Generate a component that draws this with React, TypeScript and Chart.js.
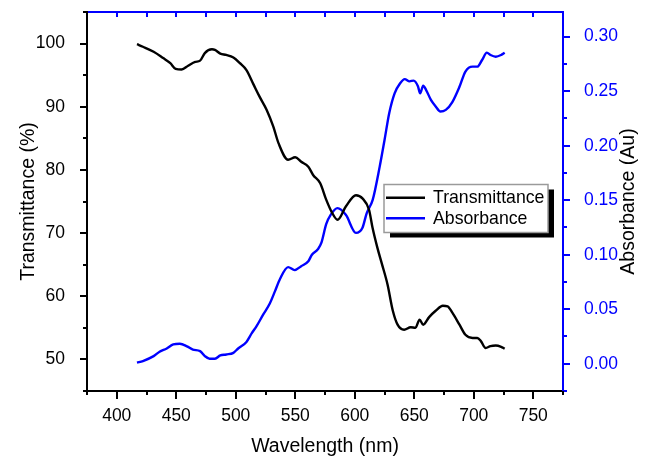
import React, { useEffect, useRef } from 'react';
import { Chart, registerables } from 'chart.js';

Chart.register(...registerables);

// ---- Data ----
const wavelengthT = [
  417, 422, 431, 439, 445, 449.5, 454.5, 460, 466, 470, 474, 480, 482.5, 487, 492, 498,
  503.5, 509, 515, 520, 526, 531.5, 536, 544, 550, 555, 561, 565, 571, 576, 581, 585.5,
  592.5, 601, 606.5, 612, 615, 619, 623, 627.5, 632, 636, 641.5, 647, 651, 654.5, 657.5,
  662.5, 668, 674, 678, 682, 688, 693, 699, 703, 706, 710, 714, 718.5, 723, 726,
];
const transmittance = [
  99.9, 99.5, 98.7, 97.7, 96.9, 96.0, 95.9, 96.5, 97.1, 97.3, 98.5, 99.1, 99.0, 98.4, 98.2, 97.8,
  96.9, 95.8, 93.5, 91.6, 89.5, 86.9, 84.2, 81.6, 82.0, 81.3, 80.5, 79.2, 77.9, 75.3, 73.2, 72.1,
  74.2, 76.0, 75.5, 73.7, 70.8, 67.7, 65.0, 61.9, 57.7, 55.5, 54.7, 55.1, 55.0, 56.3, 55.5,
  56.7, 57.7, 58.5, 58.4, 57.4, 55.5, 53.9, 53.4, 53.4, 52.9, 51.8, 52.1, 52.2, 52.0, 51.7,
];
const wavelengthA = [
  417, 422, 431, 436, 442, 447.5, 453, 459, 464, 470, 474, 478, 482.5, 487, 492, 498,
  502, 509, 513.5, 517.5, 523, 528.5, 533, 537, 544, 549.5, 555, 561, 564, 569, 572, 576,
  580, 585.5, 592.5, 601, 606.5, 610, 615, 621, 625, 629, 633.5, 638, 642, 646, 649.5,
  653, 655, 657.5, 660, 664, 668, 672, 676.5, 682, 688, 693, 699, 703, 707, 711, 714,
  718.5, 723, 726,
];
const absorbance = [
  0.001, 0.0025, 0.007, 0.011, 0.014, 0.0177, 0.0183, 0.016, 0.013, 0.0116, 0.007, 0.0046, 0.0046, 0.0076, 0.0085, 0.010,
  0.014, 0.020, 0.028, 0.0345, 0.045, 0.055, 0.0666, 0.0773, 0.0886, 0.0859, 0.0895, 0.094, 0.100, 0.105, 0.111, 0.128,
  0.137, 0.1427, 0.1366, 0.120, 0.1247, 0.138, 0.150, 0.181, 0.205, 0.230, 0.248, 0.257, 0.261, 0.259, 0.2597,
  0.2548, 0.248, 0.255, 0.251, 0.242, 0.236, 0.2313, 0.2328, 0.240, 0.254, 0.268, 0.2725, 0.2725, 0.2786, 0.2853, 0.2832,
  0.2816, 0.2832, 0.2853,
];

const xMajorTicks = [400, 450, 500, 550, 600, 650, 700, 750];
const xMinorTicks = [375, 425, 475, 525, 575, 625, 675, 725, 775];
const leftMajorTicks = [50, 60, 70, 80, 90, 100];
const leftMinorTicks = [45, 55, 65, 75, 85, 95, 105];
const rightMajorTicks = [0, 0.05, 0.1, 0.15, 0.2, 0.25, 0.3];
const rightMinorTicks = [-0.025, 0.025, 0.075, 0.125, 0.175, 0.225, 0.275];

const seriesNames = ['Transmittance', 'Absorbance'];
const xTitle = 'Wavelength (nm)';
const leftTitle = 'Transmittance (%)';
const rightTitle = 'Absorbance (Au)';

const FONT = "'Liberation Sans', Arial, Helvetica, sans-serif";
const BLUE = '#0000ff';
const BLACK = '#000000';

const framePlugin = {
  id: 'originFrame',
  afterDraw(chart: any) {
    const ctx = chart.ctx;
    const ca = chart.chartArea;
    const sx = chart.scales.x;
    const yl = chart.scales.y;
    const yr = chart.scales.y1;
    const L = Math.round(ca.left), R = Math.round(ca.right), T = Math.round(ca.top), B = Math.round(ca.bottom);
    ctx.save();
    ctx.lineWidth = 2;
    ctx.lineCap = 'butt';
    const line = (x1: number, y1: number, x2: number, y2: number, c: string) => {
      ctx.strokeStyle = c;
      ctx.beginPath();
      ctx.moveTo(x1, y1);
      ctx.lineTo(x2, y2);
      ctx.stroke();
    };
    // top & right (blue)
    line(L - 1, T, R + 1, T, BLUE);
    line(R, T - 1, R, B + 1, BLUE);
    // top ticks (inward, blue)
    [...xMajorTicks, ...xMinorTicks].forEach((v) => {
      const px = Math.round(sx.getPixelForValue(v));
      if (px > L + 1 && px < R - 1) line(px, T, px, T + 5, BLUE);
    });
    // right ticks
    rightMajorTicks.forEach((v) => {
      const py = Math.round(yr.getPixelForValue(v));
      line(R, py, R + 7, py, BLUE);
    });
    rightMinorTicks.forEach((v) => {
      const py = Math.round(yr.getPixelForValue(v));
      line(R, py, R + 4, py, BLUE);
    });
    // left & bottom (black)
    line(L, T - 1, L, B + 1, BLACK);
    line(L - 1, B, R - 1, B, BLACK);
    xMajorTicks.forEach((v) => {
      const px = Math.round(sx.getPixelForValue(v));
      line(px, B, px, B + 8, BLACK);
    });
    xMinorTicks.forEach((v) => {
      const px = Math.round(sx.getPixelForValue(v));
      line(px, B, px, B + 4, BLACK);
    });
    leftMajorTicks.forEach((v) => {
      const py = Math.round(yl.getPixelForValue(v));
      line(L, py, L - 7, py, BLACK);
    });
    leftMinorTicks.forEach((v) => {
      const py = Math.round(yl.getPixelForValue(v));
      line(L, py, L - 4, py, BLACK);
    });

    // axis titles
    ctx.fillStyle = BLACK;
    ctx.font = `19.5px ${FONT}`;
    ctx.textAlign = 'center';
    ctx.textBaseline = 'alphabetic';
    ctx.fillText(xTitle, (L + R) / 2, 451.5);
    const cy = (T + B) / 2;
    ctx.save();
    ctx.translate(33.5, cy);
    ctx.rotate(-Math.PI / 2);
    ctx.fillText(leftTitle, 0, 0);
    ctx.restore();
    ctx.save();
    ctx.translate(634, cy);
    ctx.rotate(-Math.PI / 2);
    ctx.fillText(rightTitle, 0, 0);
    ctx.restore();

    // legend box with shadow
    const bx = L + 297, by = T + 172.5, bw = 164, bh = 48;
    ctx.fillStyle = BLACK;
    ctx.fillRect(bx + 6, by + 5, bw, bh);
    ctx.fillStyle = '#ffffff';
    ctx.fillRect(bx, by, bw, bh);
    ctx.strokeStyle = '#9a9a9a';
    ctx.lineWidth = 1.5;
    ctx.strokeRect(bx, by, bw, bh);
    const colors = [BLACK, BLUE];
    const rowY = [by + 13.2, by + 33.8];
    const baseY = [by + 18.8, by + 39.5];
    ctx.font = `17.7px ${FONT}`;
    ctx.textAlign = 'left';
    seriesNames.forEach((name, i) => {
      ctx.strokeStyle = colors[i];
      ctx.lineWidth = 2.5;
      ctx.beginPath();
      ctx.moveTo(bx + 2, rowY[i]);
      ctx.lineTo(bx + 41, rowY[i]);
      ctx.stroke();
      ctx.fillStyle = BLACK;
      ctx.fillText(name, bx + 49, baseY[i]);
    });
    ctx.restore();
  },
};

export default function App() {
  const canvasRef = useRef<HTMLCanvasElement | null>(null);

  useEffect(() => {
    const canvas = canvasRef.current;
    if (!canvas) return;
    const tickFont = { family: FONT, size: 17.5 };
    const noPadV = (s: any) => { s.paddingTop = 0; s.paddingBottom = 0; };
    const chart = new Chart(canvas, {
      type: 'line',
      data: {
        datasets: [
          {
            label: seriesNames[0],
            data: wavelengthT.map((x, i) => ({ x, y: transmittance[i] })),
            borderColor: BLACK,
            borderWidth: 2.4,
            pointRadius: 0,
            cubicInterpolationMode: 'monotone',
            yAxisID: 'y',
          },
          {
            label: seriesNames[1],
            data: wavelengthA.map((x, i) => ({ x, y: absorbance[i] })),
            borderColor: BLUE,
            borderWidth: 2.4,
            pointRadius: 0,
            cubicInterpolationMode: 'monotone',
            yAxisID: 'y1',
          },
        ],
      },
      options: {
        responsive: false,
        animation: false,
        devicePixelRatio: 1,
        layout: { padding: { top: 12, left: 0, right: 0, bottom: 0 } },
        plugins: { legend: { display: false }, tooltip: { enabled: false } },
        scales: {
          x: {
            type: 'linear',
            position: 'bottom',
            min: 375,
            max: 775,
            grid: { display: false },
            border: { display: false },
            ticks: { font: tickFont, color: BLACK, padding: 7, maxRotation: 0 },
            afterBuildTicks: (s: any) => { s.ticks = xMajorTicks.map((value) => ({ value })); },
            afterFit: (s: any) => { s.height = 66; s.paddingLeft = 0; s.paddingRight = 0; },
          },
          y: {
            type: 'linear',
            position: 'left',
            min: 45,
            max: 105,
            grid: { display: false },
            border: { display: false },
            ticks: { font: tickFont, color: BLACK, padding: 14 },
            afterBuildTicks: (s: any) => { s.ticks = leftMajorTicks.map((value) => ({ value })); },
            afterFit: (s: any) => { s.width = 87; noPadV(s); },
          },
          y1: {
            type: 'linear',
            position: 'right',
            min: -0.025,
            max: 0.3226,
            grid: { display: false },
            border: { display: false },
            ticks: {
              font: tickFont,
              color: BLUE,
              padding: 13,
              callback: (v: any) => Number(v).toFixed(2),
            },
            afterBuildTicks: (s: any) => { s.ticks = rightMajorTicks.map((value) => ({ value })); },
            afterFit: (s: any) => { s.width = 83; noPadV(s); },
          },
        },
      },
      plugins: [framePlugin],
    } as any);
    return () => chart.destroy();
  }, []);

  return (
    <div style={{ position: 'absolute', left: 0, top: 0, width: 646, height: 457, background: '#fff' }}>
      <canvas ref={canvasRef} width={646} height={457} style={{ display: 'block' }} />
    </div>
  );
}
